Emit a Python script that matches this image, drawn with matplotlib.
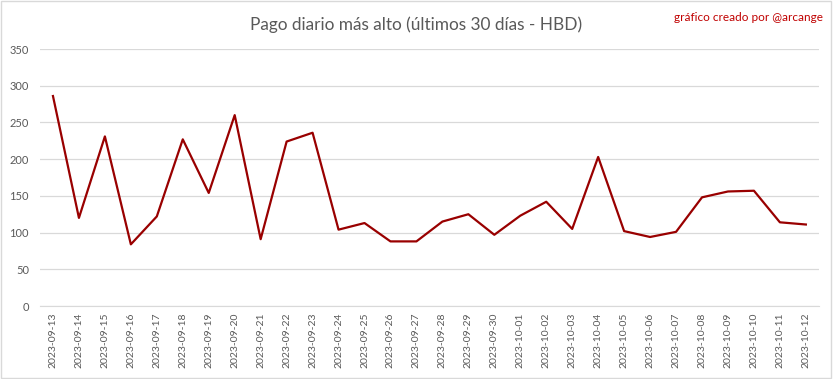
import matplotlib.pyplot as plt
from matplotlib.patches import Rectangle

fechas = ['2023-09-13', '2023-09-14', '2023-09-15', '2023-09-16', '2023-09-17',
          '2023-09-18', '2023-09-19', '2023-09-20', '2023-09-21', '2023-09-22',
          '2023-09-23', '2023-09-24', '2023-09-25', '2023-09-26', '2023-09-27',
          '2023-09-28', '2023-09-29', '2023-09-30', '2023-10-01', '2023-10-02',
          '2023-10-03', '2023-10-04', '2023-10-05', '2023-10-06', '2023-10-07',
          '2023-10-08', '2023-10-09', '2023-10-10', '2023-10-11', '2023-10-12']
pago_max = [286, 120, 231, 84, 122, 227, 154, 260, 91, 224,
            236, 104, 113, 88, 88, 115, 125, 97, 123, 142,
            105, 203, 102, 94, 101, 148, 156, 157, 114, 111]
yticks = [0, 50, 100, 150, 200, 250, 300, 350]

plt.rcParams['font.family'] = ['Lato', 'DejaVu Sans']
gris = '#595959'

fig = plt.figure(figsize=(8.33, 3.79), dpi=100)
ax = fig.add_axes([0.048, 0.1926, 0.935, 0.678])

x = list(range(len(fechas)))
ax.plot(x, pago_max, color='#990000', linewidth=1.6, zorder=3)

ax.set_xlim(-0.5, len(fechas) - 0.5)
ax.set_ylim(0, 350)
ax.set_yticks(yticks)
ax.set_xticks(x)
ax.set_xticklabels(fechas, rotation=90, fontsize=7.5, color=gris)
ax.tick_params(axis='y', labelsize=8, colors=gris, length=0, pad=8)
ax.tick_params(axis='x', length=0, pad=5)
ax.grid(axis='y', color='#d9d9d9', linewidth=0.9)
ax.set_axisbelow(True)
for s in ['top', 'right', 'left']:
    ax.spines[s].set_visible(False)
ax.spines['bottom'].set_color('#d9d9d9')

fig.text(0.5, 0.935, 'Pago diario más alto (últimos 30 días - HBD)',
         ha='center', va='center', fontsize=12.4, color=gris)
fig.text(0.988, 0.955, 'gráfico creado por @arcange',
         ha='right', va='center', fontsize=8.5, color='#c00000')

fig.patches.append(Rectangle((0.001, 0.002), 0.997, 0.996, transform=fig.transFigure,
                             fill=False, edgecolor='#d9d9d9', linewidth=1))

fig.savefig('out.png', dpi=100)
